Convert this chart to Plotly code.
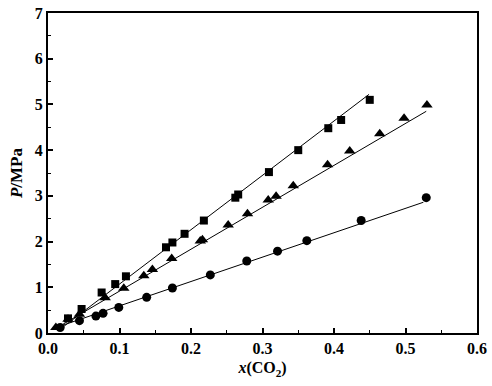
import plotly.graph_objects as go

# Data
sq_x = [0.028, 0.047, 0.075, 0.094, 0.109, 0.165, 0.174, 0.191, 0.218, 0.262, 0.266, 0.309, 0.350, 0.392, 0.410, 0.450]
sq_y = [0.32, 0.525, 0.886, 1.07, 1.24, 1.875, 1.98, 2.17, 2.46, 2.96, 3.03, 3.52, 4.00, 4.48, 4.66, 5.10]

tri_x = [0.011, 0.028, 0.044, 0.080, 0.106, 0.134, 0.146, 0.173, 0.213, 0.216, 0.252, 0.279, 0.308, 0.319, 0.343, 0.391, 0.422, 0.464, 0.498, 0.530]
tri_y = [0.12, 0.30, 0.41, 0.77, 0.98, 1.25, 1.39, 1.63, 2.01, 2.04, 2.36, 2.61, 2.91, 2.99, 3.22, 3.68, 3.98, 4.36, 4.70, 4.99]

cir_x = [0.017, 0.044, 0.067, 0.077, 0.099, 0.138, 0.174, 0.227, 0.278, 0.321, 0.362, 0.438, 0.529]
cir_y = [0.12, 0.27, 0.37, 0.43, 0.56, 0.78, 0.985, 1.27, 1.575, 1.79, 2.02, 2.46, 2.96]

# Fitted lines (endpoints)
sq_fit_x = [0.015, 0.449]
sq_fit_y = [0.06, 5.22]
tri_fit_x = [0.011, 0.529]
tri_fit_y = [0.10, 4.85]
cir_fit_x = [0.017, 0.525]
cir_fit_y = [0.15, 2.86]

x_ticks = [0.0, 0.1, 0.2, 0.3, 0.4, 0.5, 0.6]
y_ticks = [0, 1, 2, 3, 4, 5, 6, 7]

fig = go.Figure()
line_style = dict(color="black", width=1)
for fx, fy in [(sq_fit_x, sq_fit_y), (tri_fit_x, tri_fit_y), (cir_fit_x, cir_fit_y)]:
    fig.add_trace(go.Scatter(x=fx, y=fy, mode="lines", line=line_style, showlegend=False, hoverinfo="skip"))

fig.add_trace(go.Scatter(x=sq_x, y=sq_y, mode="markers",
                         marker=dict(symbol="square", size=8, color="black"), showlegend=False))
fig.add_trace(go.Scatter(x=tri_x, y=tri_y, mode="markers",
                         marker=dict(symbol="triangle-up", size=10, color="black"), showlegend=False))
fig.add_trace(go.Scatter(x=cir_x, y=cir_y, mode="markers",
                         marker=dict(symbol="circle", size=9, color="black"), showlegend=False))

font_family = "Liberation Serif, Times New Roman, serif"
fig.update_layout(
    width=492, height=386,
    margin=dict(l=48, r=15, t=13, b=53, autoexpand=False),
    paper_bgcolor="white", plot_bgcolor="white",
    font=dict(family=font_family, size=15, color="black"),
    xaxis=dict(
        range=[0, 0.6], tickvals=x_ticks, ticktext=[f"<b>{v:.1f}</b>" for v in x_ticks],
        ticks="inside", ticklen=5, tickwidth=1.5, tickcolor="black",
        minor=dict(ticks="inside", ticklen=3, tickwidth=1, dtick=0.05, tickcolor="black"),
        showline=True, linewidth=2, linecolor="black", mirror=True,
        showgrid=False, zeroline=False, automargin=False,
        title=dict(text="<b><i>x</i>(CO<sub>2</sub>)</b>", font=dict(size=16), standoff=6),
        tickfont=dict(size=16),
    ),
    yaxis=dict(
        range=[0, 7], tickvals=y_ticks, ticktext=[f"<b>{v}</b>" for v in y_ticks],
        ticks="inside", ticklen=5, tickwidth=1.5, tickcolor="black",
        minor=dict(ticks="inside", ticklen=3, tickwidth=1, dtick=0.5, tickcolor="black"),
        showline=True, linewidth=2, linecolor="black", mirror=True,
        showgrid=False, zeroline=False, automargin=False,
        title=dict(text="<b><i>P</i>/MPa</b>", font=dict(size=17), standoff=8),
        tickfont=dict(size=16),
    ),
)

fig.write_html("out.html", config={"displayModeBar": False},
               post_script="document.body.style.margin='0';document.body.style.padding='0';")
